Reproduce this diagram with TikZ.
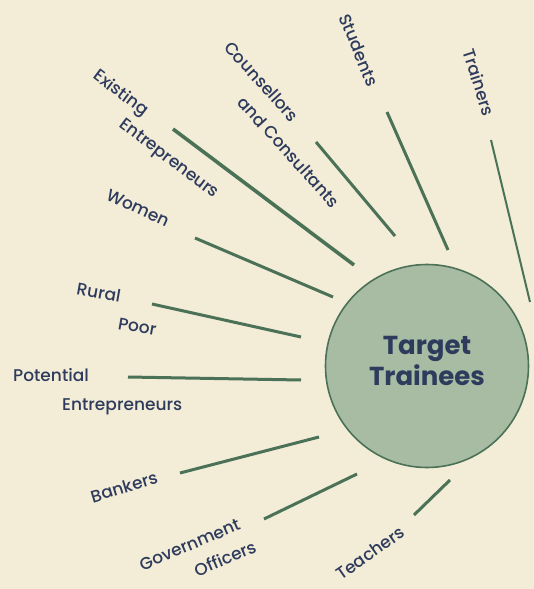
\documentclass[tikz,border=0pt]{standalone}
\usepackage{fontspec}
\setmainfont{Poppins}[UprightFont=* Medium, BoldFont=* Bold]
\definecolor{paper}{HTML}{F3EDD8}
\definecolor{rayc}{HTML}{4B7257}
\definecolor{disc}{HTML}{A8BBA3}
\definecolor{ink}{HTML}{2E3B5C}

\begin{document}
\begin{tikzpicture}[x=1pt, y=-1pt,
    grp/.style={text=ink, font=\fontsize{17}{27}\selectfont, inner sep=0pt, align=left},
    ray/.style={draw=rayc, line width=3pt}]
    \useasboundingbox (0,0) rectangle (534,589);
    \fill [paper] (0,0) rectangle (534,589);

    \node [draw=rayc, line width=1.6pt, fill=disc, circle, minimum size=203pt] (tt) at (427,366) {};
    \node [text=ink, font=\fontsize{26}{31}\selectfont\bfseries, align=center] (ttl)
      at ([yshift=5pt]tt.center) {Target\\Trainees};

    % trainee groups (two-line ones sit on the baseline of their last line)
    \node [grp, rotate=-72] (trn) at (479,82) {Trainers};
    \node [grp, rotate=-68] (stu) at (359,50) {Students};
    \node [grp, rotate=-48, anchor=base west] (cns) at (203,66) {Counsellors\\\hspace*{50pt}and Consultants};
    \node [grp, rotate=-37, anchor=base west] (ext) at (78,96) {Existing\\[-4pt]\hspace*{50pt}Entrepreneurs};
    \node [grp, rotate=-25] (wmn) at (138,208) {Women};
    \node [grp, rotate=-10, anchor=base west] (rur) at (71,321) {Rural\\\hspace*{47pt}Poor};
    \node [grp, anchor=base west] (pot) at (13,410) {Potential\\[2pt]\hspace*{49pt}Entrepreneurs};
    \node [grp, rotate=17] (bnk) at (124,487) {Bankers};
    \node [grp, rotate=23, anchor=base west] (gov) at (153,596) {Government\\\hspace*{48pt}Officers};
    \node [grp, rotate=35] (tch) at (370,553) {Teachers};

    % spokes
    \coordinate (trn-a) at (491,140); \coordinate (trn-b) at (530,302);
    \coordinate (stu-a) at (387,112); \coordinate (stu-b) at (448,250);
    \coordinate (cns-a) at (316,142); \coordinate (cns-b) at (395,236);
    \coordinate (ext-a) at (173,129); \coordinate (ext-b) at (354,265);
    \coordinate (wmn-a) at (195,238); \coordinate (wmn-b) at (333,297);
    \coordinate (rur-a) at (152,304); \coordinate (rur-b) at (301,337);
    \coordinate (pot-a) at (128,377); \coordinate (pot-b) at (301,380);
    \coordinate (bnk-a) at (180,473); \coordinate (bnk-b) at (319,437);
    \coordinate (gov-a) at (264,519); \coordinate (gov-b) at (357,474);
    \coordinate (tch-a) at (414,515); \coordinate (tch-b) at (450,480);

    \draw [ray, line width=2pt] (trn-a) -- (trn-b);
    \draw [ray] (stu-a) -- (stu-b);
    \draw [ray] (cns-a) -- (cns-b);
    \draw [ray, line width=3.6pt] (ext-a) -- (ext-b);
    \draw [ray] (wmn-a) -- (wmn-b);
    \draw [ray] (rur-a) -- (rur-b);
    \draw [ray] (pot-a) -- (pot-b);
    \draw [ray] (bnk-a) -- (bnk-b);
    \draw [ray] (gov-a) -- (gov-b);
    \draw [ray] (tch-a) -- (tch-b);
\end{tikzpicture}
\end{document}
